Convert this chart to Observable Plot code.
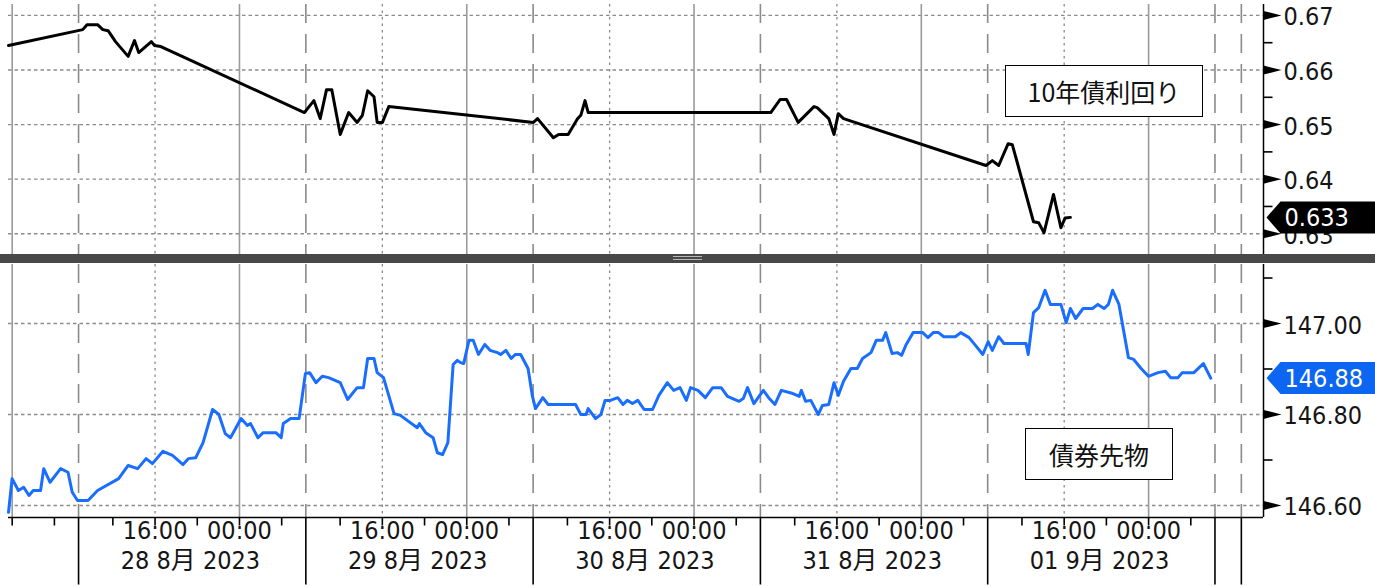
<!DOCTYPE html>
<html>
<head>
<meta charset="utf-8">
<script src="https://cdn.jsdelivr.net/npm/d3@7"></script>
<script src="https://cdn.jsdelivr.net/npm/@observablehq/plot@0.6"></script>
<style>
  body { margin: 0; background: #fff; }
  #wrap { position: relative; width: 1375px; height: 586px; overflow: hidden; background: #fff; }
  #topPanel { position: absolute; left: 0; top: 0; }
  #bottomPanel { position: absolute; left: 0; top: 263px; }
  #sep { position: absolute; left: 0; top: 254px; width: 1375px; height: 9px; background: #484848; }
  #handle { position: absolute; left: 673px; top: 256px; width: 29px; height: 2px; border-top: 1px solid #b8b8b8; border-bottom: 1px solid #b8b8b8; }
  .note { position: absolute; box-sizing: border-box; background: #fff; border: 1.5px solid #000;
          font-family: "Noto Sans CJK JP", sans-serif; font-size: 25px; color: #111;
          display: flex; align-items: center; justify-content: center; }
  svg text { font-stretch: condensed; }
</style>
</head>
<body>
<div id="wrap">
  <div id="topPanel"></div>
  <div id="sep"></div>
  <div id="handle"></div>
  <div id="bottomPanel"></div>
  <div class="note" style="left:1005px;top:65px;width:198px;height:52px;">10年債利回り</div>
  <div class="note" style="left:1025px;top:428px;width:148px;height:52px;">債券先物</div>
</div>
<script>
// ---------- data (x = compressed trading hours since 28 Aug session open) ----------
const yieldTime = [-6.64, 0.4, 0.8, 1.8, 2.3, 2.8, 3.5, 4.7, 5.3, 5.7, 6.9, 7.2, 7.8,
  21.4, 22.3, 22.9, 23.5, 24.0, 24.8, 25.6, 26.4, 26.9, 27.4, 28.0, 28.3, 28.8, 29.4,
  43.1, 43.5, 45.0, 45.5, 46.4, 47.3, 47.6, 48.0, 48.3,
  65.6, 66.5, 67.1, 68.2, 69.7, 70.0, 71.1, 71.6, 72.0, 72.5,
  86.0, 86.6, 87.2, 88.1, 88.5, 90.5, 91.0, 91.5, 92.4, 93.1, 93.5, 94.0];
const yieldValue = [0.6645, 0.6674, 0.6683, 0.6683, 0.6674, 0.6672, 0.6652, 0.6625, 0.6654, 0.6632, 0.6652, 0.6645, 0.6643,
  0.6522, 0.6544, 0.6511, 0.6564, 0.6564, 0.6482, 0.6522, 0.6504, 0.6517, 0.6562, 0.6551, 0.6504, 0.6504, 0.6533,
  0.6504, 0.6511, 0.6476, 0.6482, 0.6482, 0.6511, 0.6517, 0.6544, 0.6522,
  0.6522, 0.6546, 0.6546, 0.6504, 0.6533, 0.6531, 0.6511, 0.6482, 0.6520, 0.6511,
  0.6425, 0.6434, 0.6425, 0.6465, 0.6463, 0.6322, 0.6320, 0.6302, 0.6372, 0.6311, 0.6329, 0.6330];

const futTime = [-6.64, -6.3, -5.7, -5.2, -4.7, -4.3, -3.6, -3.3, -2.7, -1.7, -1.0, -0.6, -0.1, 0.9, 1.8,
  3.8, 4.7, 5.6, 6.4, 7.0, 8.0, 8.9, 9.9, 10.4, 11.1, 11.8, 12.7, 13.3, 13.9, 14.4, 15.4, 16.0, 16.3,
  17.0, 17.5, 18.7, 19.2, 19.4, 20.1, 20.9, 21.5, 21.9, 22.5, 23.1, 23.7, 24.8, 25.5, 26.4, 27.0,
  27.4, 28.0, 28.3, 28.9, 29.9, 30.5, 32.1, 32.3, 32.9, 33.6, 34.0, 34.5, 35.0, 35.5, 35.9, 36.2,
  36.5, 37.0, 37.4, 37.9, 38.5, 39.0, 39.7, 40.0, 40.5, 41.0, 41.4, 41.9, 42.6, 43.0, 43.3, 44.0,
  44.5, 47.1, 47.6, 48.1, 48.3, 49.0, 49.5, 49.9, 50.4, 51.1, 51.6, 52.0, 52.5, 53.0, 53.6, 54.4,
  55.0, 55.8, 56.4, 57.0, 57.6, 58.0, 58.7, 59.4, 60.1, 60.9, 61.5, 62.6, 63.0, 63.4, 64.0, 64.9,
  65.4, 66.0, 66.6, 67.7, 68.3, 68.5, 68.9, 69.4, 70.1, 70.5, 71.1, 71.6, 72.0, 72.5, 73.2, 73.8,
  74.3, 75.1, 75.6, 76.2, 76.5, 77.1, 77.6, 78.0, 78.4, 79.1, 80.0, 80.5, 81.0, 81.5, 82.0, 83.1,
  83.6, 84.4, 85.0, 85.7, 86.2, 86.6, 87.2, 87.7, 89.8, 90.0, 90.5, 91.0, 91.6, 92.1, 93.1, 93.6,
  94.0, 94.5, 95.2, 96.1, 96.6, 97.2, 97.6, 98.0, 98.6, 99.5, 100.0, 100.7, 101.4, 102.3, 103.0,
  103.5, 104.2, 104.6, 105.7, 106.6, 107.3];
const futValue = [146.585, 146.659, 146.633, 146.640, 146.622, 146.633, 146.633, 146.681, 146.651, 146.681, 146.673, 146.629, 146.611, 146.611, 146.633,
  146.659, 146.688, 146.681, 146.703, 146.692, 146.719, 146.710, 146.690, 146.703, 146.705, 146.738, 146.811, 146.800, 146.758, 146.749, 146.791, 146.776, 146.780,
  146.749, 146.760, 146.760, 146.749, 146.780, 146.791, 146.791, 146.890, 146.892, 146.870, 146.884, 146.881, 146.870, 146.833, 146.859, 146.859,
  146.923, 146.923, 146.892, 146.881, 146.802, 146.798, 146.771, 146.780, 146.760, 146.749, 146.716, 146.712, 146.738, 146.910, 146.919, 146.914,
  146.912, 146.963, 146.963, 146.932, 146.954, 146.941, 146.936, 146.932, 146.941, 146.923, 146.932, 146.932, 146.901, 146.842, 146.813, 146.837,
  146.822, 146.822, 146.800, 146.800, 146.813, 146.791, 146.800, 146.831, 146.831, 146.837, 146.822, 146.831, 146.824, 146.831, 146.811, 146.811,
  146.842, 146.870, 146.853, 146.859, 146.831, 146.859, 146.853, 146.837, 146.859, 146.859, 146.840, 146.829, 146.835, 146.859, 146.824, 146.853,
  146.837, 146.822, 146.853, 146.846, 146.840, 146.853, 146.829, 146.831, 146.800, 146.820, 146.822, 146.870, 146.842, 146.873, 146.901, 146.901,
  146.923, 146.936, 146.963, 146.963, 146.980, 146.934, 146.936, 146.930, 146.952, 146.980, 146.980, 146.969, 146.980, 146.980, 146.971, 146.971,
  146.980, 146.969, 146.952, 146.932, 146.960, 146.941, 146.971, 146.956, 146.956, 146.932, 147.024, 147.035, 147.073, 147.042, 147.042, 147.002,
  147.033, 147.011, 147.033, 147.033, 147.042, 147.033, 147.042, 147.073, 147.042, 146.925, 146.921, 146.901, 146.884, 146.892, 146.895,
  146.881, 146.881, 146.892, 146.892, 146.912, 146.880];

const yieldTicks = [0.63, 0.64, 0.65, 0.66, 0.67];
const yieldMinor = [0.635, 0.645, 0.655, 0.665];
const futTicks = [146.60, 146.80, 147.00];
const futMinor = [146.70, 146.90, 147.10];
const dayLabels = ["28 8月 2023", "29 8月 2023", "30 8月 2023", "31 8月 2023", "01 9月 2023"];
const timeLabels = ["16:00", "00:00"];
const sessionOpen = [0, 21.54, 43.08, 64.62, 86.16, 107.7];
const lastYield = "0.633";
const lastFut = "146.88";

// ---------- derived ----------
const DAY = 21.54, XMIN = -6.64, XMAX = 112.3;
const grid16 = [0, 1, 2, 3, 4].map(i => i * DAY + 7.25);
const grid00 = [-1, 0, 1, 2, 3, 4].map(i => i * DAY + 15.25);
const dashed = [...sessionOpen, 110.2];
const shortTicks = [-1, 0, 1, 2, 3, 4].flatMap(i => [3.25, 7.25, 11.25, 15.25, 19.25].map(o => i * DAY + o)).filter(v => v > XMIN);
const timeLabelData = [0, 1, 2, 3, 4].flatMap(i => [{x: i * DAY + 7.25, t: timeLabels[0]}, {x: i * DAY + 15.25, t: timeLabels[1]}]);
const dateLabelData = dayLabels.map((t, i) => ({x: i * DAY + 10.6, t}));

const FONT = '"DejaVu Sans Condensed", "DejaVu Sans", "Noto Sans CJK JP", sans-serif';
const TXT = "#151515";

const arrowSym = {draw(c) { c.moveTo(0, -4.5); c.lineTo(18, 0); c.lineTo(0, 4.5); c.closePath(); }};
const minorSym = {draw(c) { c.moveTo(0, -0.8); c.lineTo(9, -0.8); c.lineTo(9, 0.8); c.lineTo(0, 0.8); c.closePath(); }};
const tagSym = {draw(c) { c.moveTo(3, 0); c.lineTo(17, -16); c.lineTo(130, -16); c.lineTo(130, 16); c.lineTo(17, 16); c.closePath(); }};
const vTick = (len) => ({draw(c) { c.moveTo(-0.8, 0); c.lineTo(0.8, 0); c.lineTo(0.8, len); c.lineTo(-0.8, len); c.closePath(); }});

function gridMarks() {
  return [
    Plot.ruleX(grid00, {stroke: "#9a9a9a", strokeWidth: 1.6}),
    Plot.ruleX(grid16, {stroke: "#8a8a8a", strokeWidth: 1.3, strokeDasharray: "2.5,4"}),
    Plot.ruleX(dashed, {stroke: "#8a8a8a", strokeWidth: 1.6, strokeDasharray: "19,11"})
  ];
}
function rightAxis(major, minor, fmt) {
  return [
    Plot.ruleX([XMAX], {stroke: "#000", strokeWidth: 1.5}),
    Plot.dot(major, {x: () => XMAX, y: d => d, symbol: arrowSym, r: 5, fill: "#000", stroke: "none"}),
    Plot.dot(minor, {x: () => XMAX, y: d => d, symbol: minorSym, r: 5, fill: "#000", stroke: "none"}),
    Plot.text(major, {x: () => XMAX, y: d => d, text: fmt, textAnchor: "start", dx: 20, dy: 2, fontSize: 25, fill: TXT})
  ];
}

const common = {
  width: 1375, marginLeft: 8, marginRight: 112,
  x: {domain: [XMIN, XMAX], axis: null},
  style: {fontFamily: FONT, background: "transparent", overflow: "visible"}
};

const yieldData = yieldTime.map((t, i) => ({t, v: yieldValue[i]}));
const futData = futTime.map((t, i) => ({t, v: futValue[i]}));

const topChart = Plot.plot({
  ...common, height: 254, marginTop: 4, marginBottom: 0,
  y: {domain: [0.6262, 0.672], axis: null},
  marks: [
    Plot.ruleY(yieldTicks, {stroke: "#8c8c8c", strokeWidth: 1.3, strokeDasharray: "3.5,3"}),
    ...gridMarks(),
    Plot.line(yieldData, {x: "t", y: "v", stroke: "#000", strokeWidth: 3, strokeLinejoin: "round"}),
    ...rightAxis(yieldTicks, yieldMinor, d => d.toFixed(2)),
    Plot.dot([+lastYield], {x: () => XMAX, y: d => d, symbol: tagSym, r: 5, fill: "#000", stroke: "none"}),
    Plot.text([+lastYield], {x: () => XMAX, y: d => d, text: () => lastYield, textAnchor: "start", dx: 21, dy: 1, fontSize: 25, fill: "#fff"})
  ]
});
document.getElementById("topPanel").append(topChart);

const bottomChart = Plot.plot({
  ...common, height: 323, marginTop: 1, marginBottom: 69,
  y: {domain: [146.5736, 147.1297], axis: null},
  marks: [
    Plot.ruleY(futTicks, {stroke: "#8c8c8c", strokeWidth: 1.3, strokeDasharray: "3.5,3"}),
    ...gridMarks(),
    Plot.line(futData, {x: "t", y: "v", stroke: "#1a6eff", strokeWidth: 3, strokeLinejoin: "round"}),
    Plot.ruleY([146.5736], {stroke: "#000", strokeWidth: 1.5}),
    ...rightAxis(futTicks, futMinor, d => d.toFixed(2)),
    Plot.dot([+lastFut], {x: () => XMAX, y: d => d, symbol: tagSym, r: 5, fill: "#0d66f2", stroke: "none"}),
    Plot.text([+lastFut], {x: () => XMAX, y: d => d, text: () => lastFut, textAnchor: "start", dx: 21, dy: 1, fontSize: 25, fill: "#fff"}),
    // bottom time axis
    Plot.dot(shortTicks, {x: d => d, frameAnchor: "bottom", symbol: vTick(8), r: 5, fill: "#000", stroke: "none"}),
    Plot.dot(dashed, {x: d => d, frameAnchor: "bottom", symbol: vTick(67), r: 5, fill: "#000", stroke: "none"}),
    Plot.text(timeLabelData, {x: "x", text: "t", frameAnchor: "bottom", dy: 21, fontSize: 25, fill: TXT}),
    Plot.text(dateLabelData, {x: "x", text: "t", frameAnchor: "bottom", dy: 51, fontSize: 25, fill: TXT})
  ]
});
document.getElementById("bottomPanel").append(bottomChart);
</script>
</body>
</html>
